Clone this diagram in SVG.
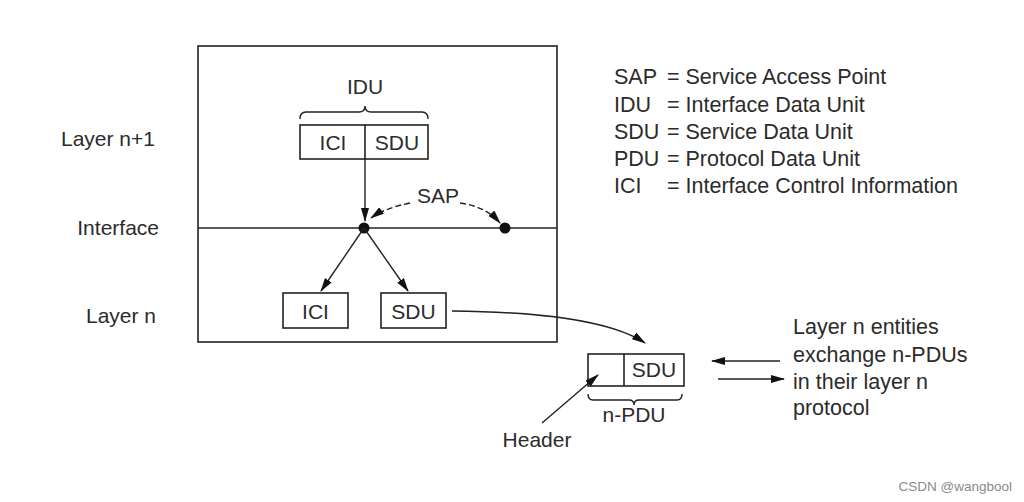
<svg xmlns="http://www.w3.org/2000/svg" width="1024" height="502" viewBox="0 0 1024 502">
<style>
text{font-family:"Liberation Sans",Arial,sans-serif;font-size:21px;fill:#2b2b2b}
.big{font-size:21.5px}
.box{fill:#fff;stroke:#222;stroke-width:1.6}
.ln{fill:none;stroke:#222;stroke-width:1.4}
.ds{fill:none;stroke:#222;stroke-width:1.4;stroke-dasharray:6 3}
.c{text-anchor:middle}
.r{text-anchor:end}
</style>
<defs>
<marker id="ah" markerWidth="14" markerHeight="10" refX="13" refY="5" orient="auto" markerUnits="userSpaceOnUse">
<path d="M0,1 L14,5 L0,9 Z" fill="#111"/>
</marker>
</defs>
<rect width="1024" height="502" fill="#fff"/>

<g id="frame">
<rect x="198" y="46" width="359" height="296" fill="none" stroke="#222" stroke-width="1.6"/>
<line x1="198" y1="228" x2="557" y2="228" stroke="#222" stroke-width="1.6"/>
</g>

<g id="labels-left">
<text x="155" y="146" class="r">Layer n+1</text>
<text x="159" y="235" class="r">Interface</text>
<text x="156" y="323" class="r">Layer n</text>
</g>

<g id="idu">
<path class="ln" d="M300,119 Q300,112 306,112 L359,112 Q365,112 365,106 Q365,112 371,112 L422,112 Q428,112 428,119"/>
<text x="365" y="94" class="c">IDU</text>
<rect class="box" x="300" y="125" width="128" height="34"/>
<line x1="365" y1="125" x2="365" y2="159" stroke="#222" stroke-width="1.6"/>
<text x="333" y="150" class="c">ICI</text>
<text x="397" y="150" class="c">SDU</text>
</g>

<g id="sap">
<circle cx="364" cy="228" r="5.5" fill="#111"/>
<circle cx="505" cy="228" r="5.5" fill="#111"/>
<text x="438" y="203" class="c">SAP</text>
</g>

<g id="ici-n">
<rect class="box" x="283" y="293" width="65" height="35"/>
<text x="315.5" y="319" class="c">ICI</text>
</g>
<g id="sdu-n">
<rect class="box" x="381" y="293" width="65" height="35"/>
<text x="413.5" y="319" class="c">SDU</text>
</g>

<g id="npdu">
<rect class="box" x="588" y="354" width="96" height="32"/>
<line x1="624" y1="354" x2="624" y2="386" stroke="#222" stroke-width="1.6"/>
<text x="654" y="377" class="c">SDU</text>
<path class="ln" d="M588,394 Q588,400 593,400 L629,400 Q634,400 634,405 Q634,400 639,400 L677,400 Q682,400 682,394"/>
<text x="634" y="422" class="c">n-PDU</text>
</g>

<g id="header">
<text x="537" y="447" class="c">Header</text>
</g>

<g id="legend" class="big">
<text x="614" y="84" class="big">SAP</text><text x="667" y="84" class="big">= Service Access Point</text>
<text x="614" y="112" class="big">IDU</text><text x="667" y="112" class="big">= Interface Data Unit</text>
<text x="614" y="139" class="big">SDU</text><text x="667" y="139" class="big">= Service Data Unit</text>
<text x="614" y="166" class="big">PDU</text><text x="667" y="166" class="big">= Protocol Data Unit</text>
<text x="614" y="193" class="big">ICI</text><text x="667" y="193" class="big">= Interface Control Information</text>
</g>

<g id="note">
<text x="793" y="334" class="big">Layer n entities</text>
<text x="793" y="362" class="big">exchange n-PDUs</text>
<text x="793" y="389" class="big">in their layer n</text>
<text x="793" y="415" class="big">protocol</text>
</g>

<g id="connectors">
<line class="ln" x1="365" y1="159" x2="365" y2="221" marker-end="url(#ah)"/>
<path class="ds" d="M410,203 Q385,208 371,218" marker-end="url(#ah)"/>
<path class="ds" d="M460,203 Q485,206 500,223" marker-end="url(#ah)"/>
<line class="ln" x1="364" y1="228" x2="321" y2="291" marker-end="url(#ah)"/>
<line class="ln" x1="364" y1="228" x2="408" y2="291" marker-end="url(#ah)"/>
<path class="ln" d="M452,311 C540,312 610,320 645,343" marker-end="url(#ah)"/>
<line class="ln" x1="542" y1="423" x2="598" y2="375" marker-end="url(#ah)"/>
<line class="ln" x1="780" y1="361" x2="712" y2="361" marker-end="url(#ah)"/>
<line class="ln" x1="718" y1="379" x2="784" y2="379" marker-end="url(#ah)"/>
</g>

<text x="1012" y="491" text-anchor="end" style="font-size:13.5px;fill:#8a8a8a">CSDN @wangbool</text>
</svg>
